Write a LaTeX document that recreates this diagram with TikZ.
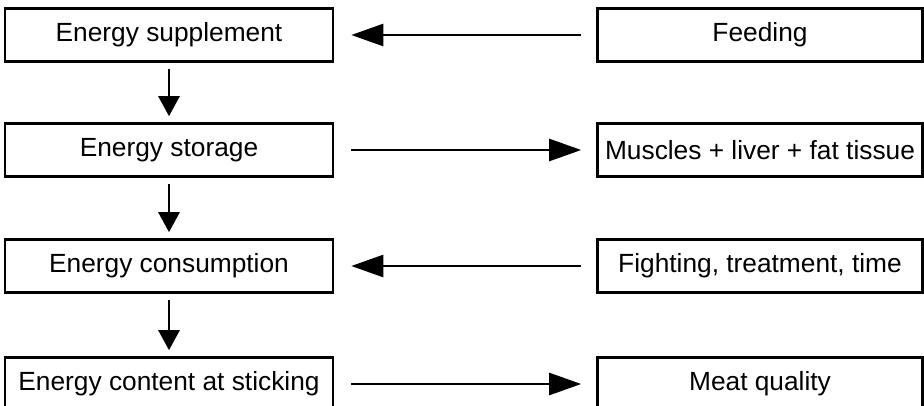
\documentclass[tikz,border=0pt]{standalone}
\usepackage{fontspec}
\setmainfont{Liberation Sans}
\usetikzlibrary{arrows.meta}
\begin{document}
\begin{tikzpicture}[x=1pt,y=-1pt,
  box/.style={draw,line width=2.6pt,minimum height=53pt,inner sep=0pt,
    font=\fontsize{26.3}{30}\selectfont},
  leftbox/.style={box,minimum width=328pt},
  rightbox/.style={box,minimum width=325pt},
  flow/.style={line width=2.6pt,-{Triangle[length=32pt,width=22pt]},
    shorten <=15pt,shorten >=17pt},
  down/.style={line width=2.6pt,-{Triangle[length=20pt,width=21pt]},
    shorten <=6pt,shorten >=6pt}]
\useasboundingbox (0,0) rectangle (924,405);
\clip (0,0) rectangle (924,405);
% left column
\node[leftbox] (supp) at (169,35)  {Energy supplement};
\node[leftbox] (stor) at (169,150) {Energy storage};
\node[leftbox] (cons) at (169,266) {Energy consumption};
\node[leftbox] (stick) at (169,384) {Energy content at sticking};
% right column
\node[rightbox] (feed) at (760,35)  {Feeding};
\node[rightbox] (tiss) at (760,150) {Muscles + liver + fat tissue};
\node[rightbox] (fight) at (760,266) {Fighting, treatment, time};
\node[rightbox] (meat) at (760,384) {Meat quality};
% vertical chain
\draw[down] (supp) -- (stor);
\draw[down] (stor) -- (cons);
\draw[down] (cons) -- (stick);
% horizontal links
\draw[flow] (feed) -- (supp);
\draw[flow,shorten <=17pt,shorten >=15pt] (stor) -- (tiss);
\draw[flow] (fight) -- (cons);
\draw[flow,shorten <=17pt,shorten >=15pt] (stick) -- (meat);
\end{tikzpicture}
\end{document}
